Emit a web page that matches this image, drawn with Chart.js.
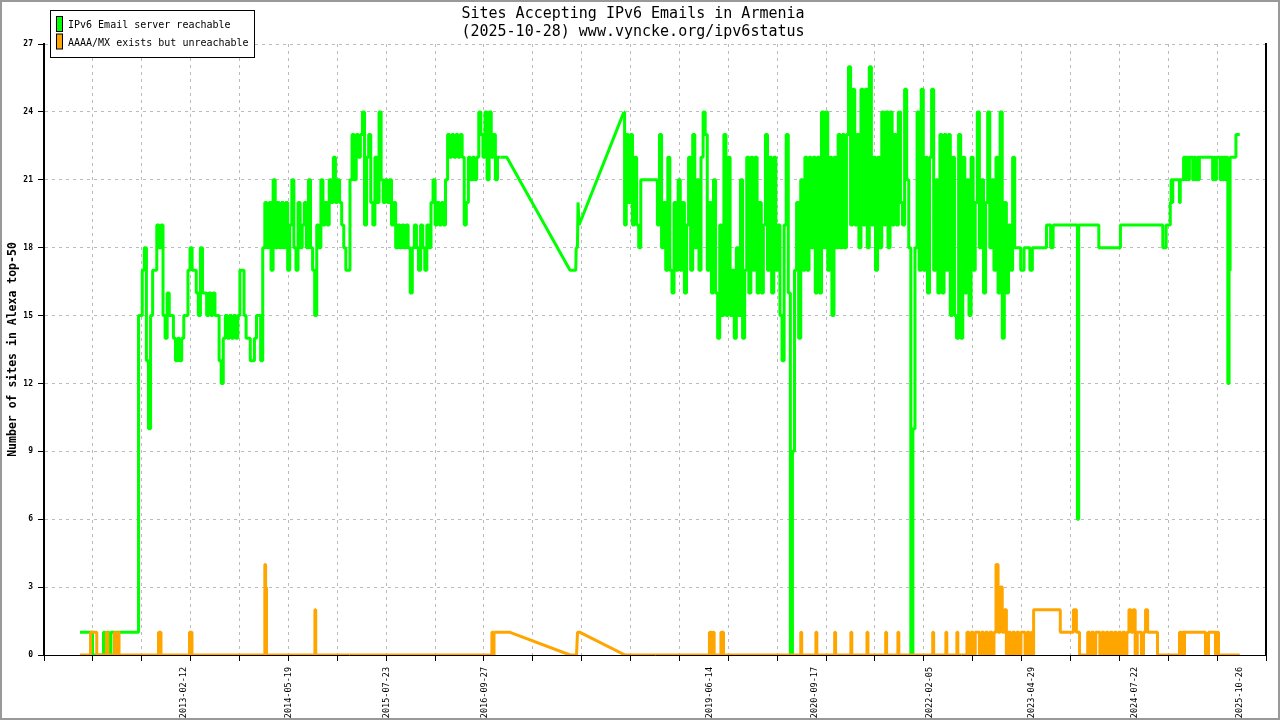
<!DOCTYPE html>
<html>
<head>
<meta charset="utf-8">
<title>Sites Accepting IPv6 Emails in Armenia</title>
<script src="https://cdn.jsdelivr.net/npm/chart.js@4.4.1/dist/chart.umd.min.js"></script>
<style>
  html, body { margin: 0; padding: 0; background: #fff; }
  canvas { display: block; }
</style>
</head>
<body>
<canvas id="grafico" width="1280" height="720"></canvas>
<script>
// x values are decimal years (2019.5 = mid 2019)
const greenYears = [
  2011.863, 2012.008, 2012.020, 2012.140, 2012.152, 2012.176, 2012.200, 2012.224, 2012.248, 2012.273,
  2012.285, 2012.297, 2012.309, 2012.321, 2012.560,
  2012.575, 2012.600, 2012.625, 2012.650, 2012.675, 2012.700, 2012.725, 2012.750, 2012.775, 2012.800,
  2012.825, 2012.850, 2012.875, 2012.900, 2012.925, 2012.950, 2012.975, 2013.000, 2013.025, 2013.050,
  2013.075, 2013.100, 2013.125, 2013.150, 2013.175, 2013.200, 2013.225, 2013.250, 2013.275, 2013.300,
  2013.325, 2013.350, 2013.375, 2013.400, 2013.425, 2013.450, 2013.475, 2013.500, 2013.525, 2013.550,
  2013.575, 2013.600, 2013.625, 2013.650, 2013.675, 2013.700, 2013.725, 2013.750, 2013.775, 2013.800,
  2013.825, 2013.850, 2013.875, 2013.900, 2013.925, 2013.950, 2013.975, 2014.000, 2014.025, 2014.050,
  2014.075, 2014.100, 2014.125, 2014.150, 2014.175, 2014.200, 2014.225, 2014.250, 2014.275, 2014.300,
  2014.325, 2014.350, 2014.375, 2014.400, 2014.425, 2014.450, 2014.475, 2014.500, 2014.525, 2014.550,
  2014.575, 2014.600, 2014.625, 2014.650, 2014.675, 2014.700, 2014.725, 2014.750, 2014.775, 2014.800,
  2014.825, 2014.850, 2014.875, 2014.900, 2014.925, 2014.950, 2014.975, 2015.000, 2015.025, 2015.050,
  2015.075, 2015.100, 2015.125, 2015.150, 2015.175, 2015.200, 2015.225, 2015.250, 2015.275, 2015.300,
  2015.325, 2015.350, 2015.375, 2015.400, 2015.425, 2015.450, 2015.475, 2015.500, 2015.525, 2015.550,
  2015.575, 2015.600, 2015.625, 2015.650, 2015.675, 2015.700, 2015.725, 2015.750, 2015.775, 2015.800,
  2015.825, 2015.850, 2015.875, 2015.900, 2015.925, 2015.950, 2015.975, 2016.000, 2016.025, 2016.050,
  2016.075, 2016.100, 2016.125, 2016.150, 2016.175, 2016.200, 2016.225, 2016.250, 2016.275, 2016.300,
  2016.325, 2016.350, 2016.375, 2016.400, 2016.425, 2016.450, 2016.475, 2016.500, 2016.525, 2016.550,
  2016.575, 2016.600, 2016.625, 2016.650, 2016.675, 2016.700, 2016.725, 2016.750, 2016.775, 2016.800,
  2016.825, 2016.850, 2016.875, 2016.900, 2016.925,
  2017.000, 2017.761, 2017.830, 2017.835, 2017.850, 2017.857, 2017.870, 2018.410,
  2018.425, 2018.450, 2018.475, 2018.500, 2018.525, 2018.550, 2018.575, 2018.600, 2018.625, 2018.650,
  2018.675, 2018.700, 2018.725, 2018.750, 2018.775, 2018.800, 2018.825, 2018.850, 2018.875, 2018.900,
  2018.925, 2018.950, 2018.975, 2019.000, 2019.025, 2019.050, 2019.075, 2019.100, 2019.125, 2019.150,
  2019.175, 2019.200, 2019.225, 2019.250, 2019.275, 2019.300, 2019.325, 2019.350, 2019.375, 2019.400,
  2019.425, 2019.450, 2019.475, 2019.500, 2019.525, 2019.550, 2019.575, 2019.600, 2019.625, 2019.650,
  2019.675, 2019.700, 2019.725, 2019.750, 2019.775, 2019.800, 2019.825, 2019.850, 2019.875, 2019.900,
  2019.925, 2019.950, 2019.975, 2020.000, 2020.025, 2020.050, 2020.075, 2020.100, 2020.125, 2020.150,
  2020.175, 2020.200, 2020.225, 2020.250, 2020.275, 2020.300, 2020.325, 2020.350, 2020.375, 2020.400,
  2020.425, 2020.450, 2020.475, 2020.500, 2020.525, 2020.550, 2020.575, 2020.600, 2020.625, 2020.650,
  2020.675, 2020.700, 2020.725, 2020.750, 2020.775, 2020.800, 2020.825, 2020.850, 2020.875, 2020.900,
  2020.925, 2020.950, 2020.975, 2021.000, 2021.025, 2021.050, 2021.075, 2021.100, 2021.125, 2021.150,
  2021.175, 2021.200, 2021.225, 2021.250, 2021.275, 2021.300, 2021.325, 2021.350, 2021.375, 2021.400,
  2021.425, 2021.450, 2021.475, 2021.500, 2021.525, 2021.550, 2021.575, 2021.600, 2021.625, 2021.650,
  2021.675, 2021.700, 2021.725, 2021.750, 2021.775, 2021.800, 2021.825, 2021.850, 2021.875, 2021.900,
  2021.925, 2021.950, 2021.975, 2022.000, 2022.025, 2022.050, 2022.075, 2022.100, 2022.125, 2022.150,
  2022.175, 2022.200, 2022.225, 2022.250, 2022.275, 2022.300, 2022.325, 2022.350, 2022.375, 2022.400,
  2022.425, 2022.450, 2022.475, 2022.500, 2022.525, 2022.550, 2022.575, 2022.600, 2022.625, 2022.650,
  2022.675, 2022.700, 2022.725, 2022.750, 2022.775, 2022.800, 2022.825, 2022.850, 2022.875, 2022.900,
  2022.925, 2022.950, 2022.975, 2023.000, 2023.025, 2023.050, 2023.075, 2023.100,
  2023.125, 2023.180, 2023.190, 2023.220, 2023.230, 2023.290, 2023.300, 2023.320, 2023.330, 2023.490,
  2023.500, 2023.540, 2023.550, 2023.570, 2023.580, 2023.860, 2023.875, 2023.890, 2024.120, 2024.130,
  2024.380, 2024.390, 2024.890, 2024.900, 2024.930, 2024.940, 2024.980, 2024.990, 2025.000, 2025.010,
  2025.020, 2025.090, 2025.100, 2025.110, 2025.140, 2025.150, 2025.170, 2025.180, 2025.190, 2025.210,
  2025.220, 2025.250, 2025.260, 2025.280, 2025.300, 2025.320, 2025.330, 2025.340, 2025.490, 2025.500,
  2025.520, 2025.530, 2025.550, 2025.580, 2025.590, 2025.610, 2025.620, 2025.640, 2025.660, 2025.670,
  2025.685, 2025.700, 2025.710, 2025.770, 2025.780, 2025.821
];
const greenValues = [
  1, 1, 0, 0, 1, 0, 1, 0, 1, 1,
  0, 1, 0, 1, 1,
  15, 15, 17, 18, 13, 10, 15, 17, 17, 19,
  18, 19, 15, 14, 16, 15, 15, 14, 13, 14,
  13, 14, 15, 15, 17, 18, 17, 17, 16, 15,
  18, 16, 16, 15, 16, 15, 16, 15, 15, 13,
  12, 14, 15, 14, 15, 14, 15, 14, 15, 17,
  17, 15, 14, 14, 13, 13, 14, 15, 15, 13,
  18, 20, 18, 20, 17, 21, 18, 20, 18, 20,
  18, 20, 17, 19, 21, 18, 17, 20, 18, 19,
  20, 18, 21, 18, 17, 15, 19, 18, 21, 19,
  20, 19, 21, 20, 22, 20, 21, 20, 19, 18,
  17, 17, 21, 23, 21, 23, 22, 23, 24, 19,
  22, 23, 20, 19, 22, 20, 24, 21, 20, 21,
  20, 21, 19, 20, 18, 19, 18, 19, 18, 19,
  18, 16, 18, 19, 18, 17, 19, 18, 17, 19,
  18, 20, 21, 19, 20, 19, 20, 19, 21, 23,
  22, 23, 22, 23, 22, 23, 22, 19, 20, 22,
  21, 22, 21, 22, 24, 23, 22, 24, 21, 24,
  22, 23, 21, 22, 22,
  22, 17, 17, 18, 18, 20, 19, 24,
  19, 23, 20, 23, 19, 22, 19, 18, 21, 21,
  21, 21, 21, 21, 21, 21, 19, 23, 18, 20,
  17, 22, 17, 16, 20, 17, 21, 17, 20, 16,
  19, 22, 17, 23, 18, 21, 17, 22, 24, 23,
  17, 20, 16, 21, 16, 14, 19, 15, 23, 15,
  22, 15, 17, 14, 18, 15, 21, 14, 17, 22,
  16, 22, 17, 22, 16, 20, 16, 19, 23, 17,
  22, 16, 22, 17, 19, 15, 13, 19, 23, 16,
  0, 9, 17, 20, 14, 21, 17, 22, 17, 22,
  18, 22, 16, 22, 16, 24, 18, 24, 17, 22,
  15, 22, 18, 23, 18, 23, 18, 23, 26, 19,
  25, 19, 23, 18, 25, 19, 25, 18, 26, 19,
  22, 17, 22, 18, 24, 19, 24, 18, 24, 19,
  23, 19, 24, 20, 19, 25, 21, 18, 0, 10,
  18, 24, 17, 25, 17, 22, 16, 22, 25, 17,
  21, 16, 23, 16, 23, 17, 23, 15, 22, 15,
  14, 23, 14, 22, 16, 21, 15, 22, 17, 20,
  24, 18, 21, 16, 20, 24, 18, 21, 17, 22,
  16, 24, 14, 20, 16, 19, 17, 22,
  18, 18, 17, 17, 18, 18, 17, 17, 18, 18,
  19, 19, 18, 18, 19, 19, 6, 19, 19, 18,
  18, 19, 19, 18, 18, 19, 19, 20, 21, 20,
  21, 21, 20, 21, 21, 22, 22, 21, 22, 21,
  22, 22, 21, 22, 21, 22, 21, 22, 22, 21,
  22, 21, 22, 22, 21, 22, 21, 22, 21, 22,
  12, 17, 22, 22, 23, 23
];

const orangeYears = [
  2011.863, 2011.984, 2011.996, 2012.056, 2012.074, 2012.176, 2012.188, 2012.206, 2012.273, 2012.285,
  2012.297, 2012.315, 2012.327, 2012.339, 2012.802, 2012.814, 2012.832, 2012.844, 2013.175, 2013.187,
  2013.205, 2013.217, 2014.084, 2014.092, 2014.102, 2014.114, 2014.686, 2014.695, 2014.706, 2016.816,
  2016.825, 2016.840, 2016.852, 2017.039, 2017.761, 2017.839, 2017.851, 2017.881, 2018.423, 2019.434,
  2019.443, 2019.453, 2019.465, 2019.477, 2019.489, 2019.501, 2019.572, 2019.582, 2019.602, 2019.614,
  2020.533, 2020.543, 2020.555, 2020.715, 2020.725, 2020.737, 2020.941, 2020.951, 2020.963, 2021.136,
  2021.146, 2021.158, 2021.330, 2021.340, 2021.352, 2021.555, 2021.565, 2021.577, 2021.702, 2021.712,
  2021.724, 2022.121, 2022.131, 2022.143, 2022.280, 2022.289, 2022.301, 2022.412, 2022.422, 2022.434,
  2022.526,
  2022.550, 2022.575, 2022.600, 2022.625, 2022.650, 2022.675, 2022.700, 2022.725, 2022.750, 2022.775,
  2022.800, 2022.825, 2022.850, 2022.875, 2022.900, 2022.925, 2022.950, 2022.975, 2023.000, 2023.025,
  2023.050, 2023.075, 2023.100, 2023.125, 2023.150, 2023.175, 2023.200, 2023.225, 2023.250, 2023.275,
  2023.300, 2023.325,
  2023.335, 2023.345, 2023.658, 2023.664, 2023.814, 2023.824, 2023.850, 2023.860, 2023.887, 2023.899,
  2023.983,
  2024.000, 2024.025, 2024.050, 2024.075, 2024.100, 2024.125, 2024.150, 2024.175, 2024.200, 2024.225,
  2024.250, 2024.275, 2024.300, 2024.325, 2024.350, 2024.375, 2024.400, 2024.425, 2024.450, 2024.475,
  2024.500, 2024.525, 2024.550, 2024.575, 2024.600, 2024.625, 2024.650, 2024.675, 2024.700, 2024.725,
  2024.825, 2024.837, 2025.090, 2025.102, 2025.120, 2025.138, 2025.150, 2025.162, 2025.403, 2025.415,
  2025.439, 2025.451, 2025.523, 2025.535, 2025.559, 2025.571, 2025.821
];
const orangeValues = [
  0, 0, 1, 1, 0, 0, 1, 0, 0, 1,
  0, 0, 1, 0, 0, 1, 1, 0, 0, 1,
  1, 0, 0, 4, 3, 0, 0, 2, 0, 0,
  1, 0, 1, 1, 0, 0, 1, 1, 0, 0,
  1, 0, 1, 0, 1, 0, 0, 1, 1, 0,
  0, 1, 0, 0, 1, 0, 0, 1, 0, 0,
  1, 0, 0, 1, 0, 0, 1, 0, 0, 1,
  0, 0, 1, 0, 0, 1, 0, 0, 1, 0,
  0,
  1, 0, 1, 0, 1, 1, 0, 1, 0, 1,
  0, 1, 0, 1, 4, 1, 3, 1, 2, 0,
  1, 0, 1, 0, 1, 0, 1, 1, 0, 1,
  0, 1,
  0, 2, 2, 1, 1, 2, 2, 1, 1, 0,
  0,
  1, 0, 1, 0, 1, 1, 0, 1, 0, 1,
  0, 1, 0, 1, 0, 1, 0, 1, 0, 1,
  2, 1, 2, 0, 1, 1, 0, 1, 2, 1,
  1, 0, 0, 1, 0, 1, 0, 1, 1, 0,
  0, 1, 1, 0, 1, 0, 0
];

// stretches without daily samples, drawn as straight lines
const greenGap = [2016.925, 2018.410];
const orangeGap = [2016.852, 2018.423];

const labelDates = ['2013-02-12', '2014-05-19', '2015-07-23', '2016-09-27', '2019-06-14',
                    '2020-09-17', '2022-02-05', '2023-04-29', '2024-07-22', '2025-10-26'];

const xMin = 2011.430;
const xMax = 2026.137;
const monoFont = 'DejaVu Sans Mono';
const greenColor = '#00ff00';
const orangeColor = '#ffa500';

function dateToYear(s) {
  const [y, m, d] = s.split('-').map(Number);
  return y + (Date.UTC(y, m - 1, d) - Date.UTC(y, 0, 1)) / (365.25 * 86400000);
}

function points(years, values, from, to) {
  const out = [];
  years.forEach((x, i) => { if (x >= from && x <= to) out.push({ x: x, y: values[i] }); });
  return out;
}

function series(label, years, values, gap, color, order) {
  const base = { label: label, borderColor: color, backgroundColor: color, borderWidth: 3, order: order };
  return [
    Object.assign({}, base, { data: points(years, values, -Infinity, gap[0]), stepped: 'middle' }),
    Object.assign({}, base, { data: points(years, values, gap[0], gap[1]), stepped: false }),
    Object.assign({}, base, { data: points(years, values, gap[1], Infinity), stepped: 'middle' })
  ];
}

// 25 equal divisions for the dashed grid
const gridTicks = [];
for (let i = 0; i <= 25; i++) gridTicks.push(xMin + i * (xMax - xMin) / 25);

const frame = {
  id: 'frame',
  beforeDraw(chart) {
    const c = chart.ctx;
    c.save();
    c.fillStyle = '#fff';
    c.fillRect(0, 0, chart.width, chart.height);
    c.restore();
  },
  afterDraw(chart) {
    const c = chart.ctx;
    c.save();
    c.strokeStyle = '#999';
    c.lineWidth = 2;
    c.strokeRect(1, 1, chart.width - 2, chart.height - 2);
    c.restore();
  }
};

// legend box in the top left corner
const legendBox = {
  id: 'legendBox',
  afterDraw(chart) {
    const c = chart.ctx;
    const seen = [];
    chart.data.datasets.forEach(ds => { if (!seen.find(s => s.label === ds.label)) seen.push(ds); });
    c.save();
    c.fillStyle = '#fff';
    c.fillRect(50.5, 10.5, 204, 47);
    c.strokeStyle = '#000';
    c.lineWidth = 1;
    c.strokeRect(50.5, 10.5, 204, 47);
    c.font = '10px "' + monoFont + '"';
    c.textBaseline = 'middle';
    seen.forEach((ds, i) => {
      const y = 16.5 + i * 17.5;
      c.fillStyle = ds.borderColor;
      c.fillRect(56.5, y, 6, 15);
      c.strokeRect(56.5, y, 6, 15);
      c.fillStyle = '#000';
      c.fillText(ds.label, 68, y + 9);
    });
    c.restore();
  }
};

const ctx = document.getElementById('grafico').getContext('2d');
new Chart(ctx, {
  type: 'line',
  data: {
    datasets: [].concat(
      series('IPv6 Email server reachable', greenYears, greenValues, greenGap, greenColor, 1),
      series('AAAA/MX exists but unreachable', orangeYears, orangeValues, orangeGap, orangeColor, 0)
    )
  },
  options: {
    responsive: false,
    animation: false,
    devicePixelRatio: 1,
    layout: { padding: { top: 0, left: 0, right: 14, bottom: 0 } },
    elements: {
      point: { radius: 0 },
      line: { tension: 0, borderJoinStyle: 'bevel', fill: false }
    },
    plugins: {
      legend: { display: false },
      tooltip: { enabled: false },
      title: {
        display: true,
        text: ['Sites Accepting IPv6 Emails in Armenia', '(2025-10-28) www.vyncke.org/ipv6status'],
        color: '#000',
        font: { family: monoFont, size: 15, weight: 'normal', lineHeight: 1.2 },
        padding: { top: 5, bottom: 3 }
      }
    },
    scales: {
      x: {
        type: 'linear',
        position: 'bottom',
        weight: 0,
        min: xMin,
        max: xMax,
        afterBuildTicks: s => { s.ticks = gridTicks.map(v => ({ value: v })); },
        afterFit: s => { s.height = 6; },
        ticks: { display: false },
        grid: { color: '#bbbbbb', lineWidth: 1, drawTicks: true, tickLength: 6, tickColor: '#000', tickWidth: 1 },
        border: { display: true, color: '#000', width: 1, dash: [3, 4] }
      },
      xl: {
        type: 'linear',
        position: 'bottom',
        weight: 1,
        min: xMin,
        max: xMax,
        afterBuildTicks: s => { s.ticks = labelDates.map(d => ({ value: dateToYear(d) })); },
        afterFit: s => { s.height = 59; },
        grid: { display: false, drawTicks: false },
        border: { display: false },
        ticks: {
          autoSkip: false,
          minRotation: 90,
          maxRotation: 90,
          padding: 6,
          color: '#000',
          font: { family: monoFont, size: 8.5 },
          callback: (v, i) => labelDates[i]
        }
      },
      y: {
        position: 'left',
        min: 0,
        max: 27,
        afterFit: s => { s.width = 44; },
        ticks: { stepSize: 3, padding: 5, color: '#000', font: { family: monoFont, size: 8, weight: 'bold' } },
        grid: { color: '#bbbbbb', lineWidth: 1, tickLength: 6, tickColor: '#000' },
        border: { display: true, color: '#000', width: 2, dash: [3, 4] },
        title: {
          display: true,
          text: 'Number of sites in Alexa top-50',
          color: '#000',
          font: { family: monoFont, size: 11.5, weight: 'bold' },
          padding: { top: 6, bottom: 0 }
        }
      },
      yr: {
        position: 'right',
        min: 0,
        max: 27,
        afterFit: s => { s.width = 0; },
        ticks: { display: false },
        grid: { display: false, drawTicks: false },
        border: { display: true, color: '#000', width: 2 }
      }
    }
  },
  plugins: [frame, legendBox]
});
</script>
</body>
</html>
